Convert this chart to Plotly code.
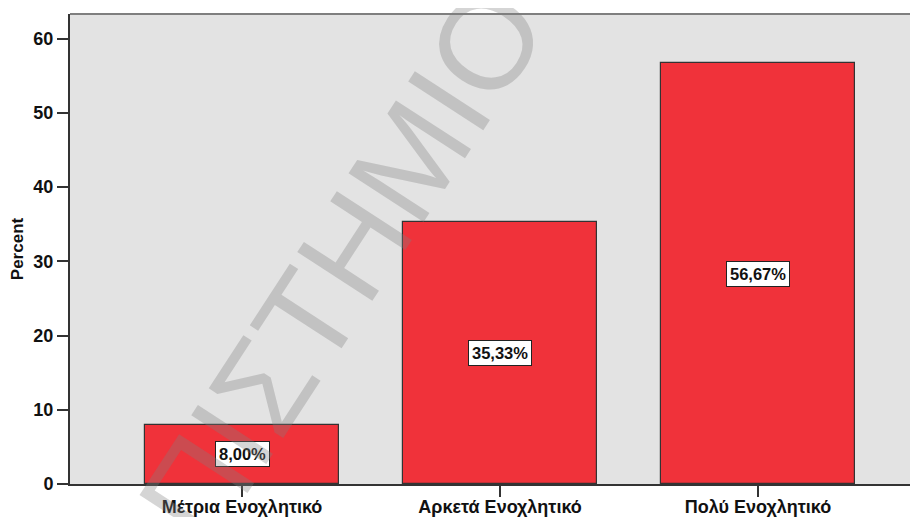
import plotly.graph_objects as go

categories = ["Μέτρια Ενοχλητικό", "Αρκετά Ενοχλητικό", "Πολύ Ενοχλητικό"]
percent = [8.00, 35.33, 56.67]
y_ticks = [0, 10, 20, 30, 40, 50, 60]
watermark = "ΠΙΣΤΗΜΙΟ"

FONT = "Liberation Sans, Arial, sans-serif"

# page body has an 8px margin: figure spans page x 8..918, y 8..517
W, H = 910, 509
L, T, B = 62, 6, 33
PW, PH = W - L, H - T - B

fig = go.Figure()
fig.add_trace(go.Bar(
    x=categories, y=percent, width=0.752,
    marker=dict(color="#F0323A", line=dict(color="#333333", width=1.2)),
    hoverinfo="skip",
))

for c, v in zip(categories, percent):
    fig.add_annotation(
        x=c, y=v / 2, xref="x", yref="y",
        text=f"{v:.2f}".replace(".", ",") + "%",
        showarrow=False, bgcolor="white", bordercolor="#222222", borderwidth=1, borderpad=3,
        font=dict(family=FONT, size=16.5, color="#111111", weight="bold"),
    )

# watermark centre in page pixels (342, 265)
fig.add_annotation(
    x=(342 - 8 - L) / PW, y=(H - B - (265 - 8)) / PH, xref="paper", yref="paper",
    text=watermark, showarrow=False, textangle=-57,
    xanchor="center", yanchor="middle",
    font=dict(family=FONT, size=130, color="rgba(128,128,128,0.33)"),
)

fig.add_shape(type="line", xref="paper", yref="paper", x0=0, x1=1, y0=1, y1=1,
              line=dict(color="#7f7f7f", width=2))

fig.update_layout(
    width=W, height=H,
    margin=dict(l=L, r=0, t=T, b=B),
    paper_bgcolor="white", plot_bgcolor="#E3E3E3",
    showlegend=False,
    bargap=0,
    xaxis=dict(
        range=[-0.667, 2.62], showgrid=False, zeroline=False, automargin=False,
        showline=True, linecolor="#333333", linewidth=1.5,
        ticks="outside", ticklen=11, tickwidth=1.5, tickcolor="#333333",
        tickfont=dict(family=FONT, size=18, color="#111111", weight="bold"),
        ticklabelstandoff=-5,
    ),
    yaxis=dict(
        range=[0, 63.3], showgrid=False, zeroline=False, automargin=False,
        tickvals=y_ticks,
        showline=True, linecolor="#333333", linewidth=2,
        ticks="outside", ticklen=11, tickwidth=2, tickcolor="#333333",
        tickfont=dict(family=FONT, size=18, color="#111111", weight="bold"),
        title=dict(text="Percent", font=dict(family=FONT, size=17, color="#111111", weight="bold"), standoff=6),
    ),
)

fig.write_html("out.html")
